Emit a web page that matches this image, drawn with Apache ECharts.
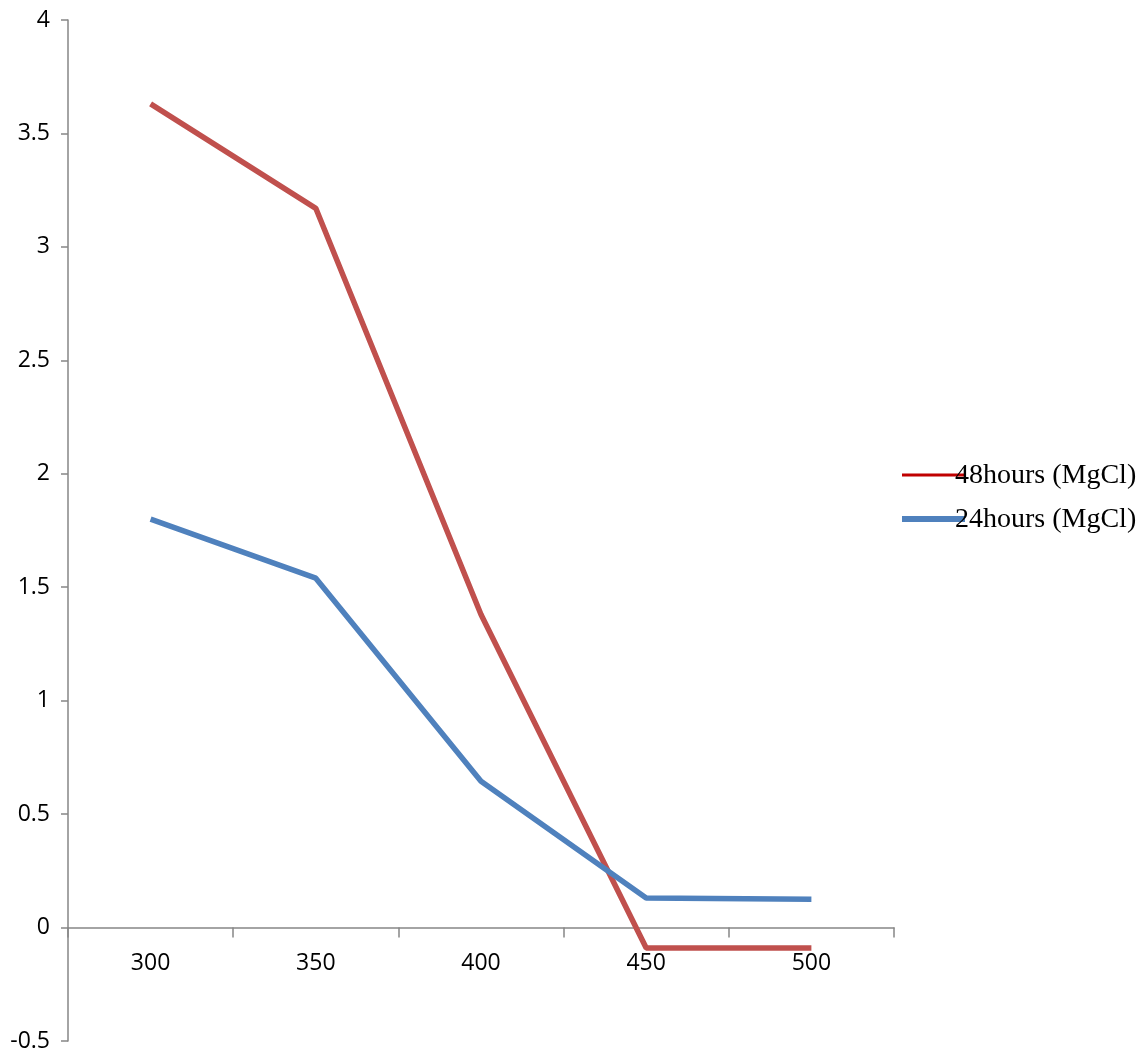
<!DOCTYPE html>
<html><head><meta charset="utf-8">
<script src="https://cdn.jsdelivr.net/npm/echarts@6/dist/echarts.min.js"></script>
<style>html,body{margin:0;padding:0;background:#fff}#c{width:1144px;height:1053px}</style>
</head><body><div id="c"></div>
<script>
var categories = ['300', '350', '400', '450', '500'];
var series48 = [3.63, 3.17, 1.38, -0.09, -0.09];
var series24 = [1.80, 1.54, 0.645, 0.13, 0.125];
var seriesNames = ['48hours (MgCl)', '24hours (MgCl)'];

var chart = echarts.init(document.getElementById('c'));
var axisColor = '#868686';
var labelFont = {color: '#000', fontSize: 23, fontFamily: 'Open Sans'};
var legendFont = '28px "Liberation Serif"';
var xLabelMargin = 24;
chart.setOption({
  animation: false,
  backgroundColor: '#fff',
  grid: {left: 68, right: 250, top: 20, bottom: 12, containLabel: false, outerBoundsMode: 'none'},
  xAxis: {
    type: 'category', data: categories, boundaryGap: true,
    axisLine: {onZero: true, lineStyle: {color: axisColor, width: 1.5}},
    axisTick: {show: true, inside: false, length: 10, lineStyle: {color: axisColor, width: 1.5}},
    axisLabel: Object.assign({margin: xLabelMargin}, labelFont),
    splitLine: {show: false}
  },
  yAxis: {
    type: 'value', min: -0.5, max: 4, interval: 0.5,
    axisLine: {show: true, lineStyle: {color: axisColor, width: 1.5}},
    axisTick: {show: true, length: 7, lineStyle: {color: axisColor, width: 1.5}},
    axisLabel: Object.assign({margin: 18}, labelFont),
    splitLine: {show: false}
  },
  legend: {show: false},
  graphic: [
    {type: 'line', shape: {x1: 902, y1: 475, x2: 965, y2: 475}, style: {stroke: '#C00000', lineWidth: 3}},
    {type: 'text', x: 955, y: 476, style: {text: seriesNames[0], font: legendFont, fill: '#000', verticalAlign: 'middle'}},
    {type: 'line', shape: {x1: 902, y1: 519, x2: 965, y2: 519}, style: {stroke: '#4F81BD', lineWidth: 6}},
    {type: 'text', x: 955, y: 520, style: {text: seriesNames[1], font: legendFont, fill: '#000', verticalAlign: 'middle'}}
  ],
  series: [
    {name: seriesNames[0], type: 'line', data: series48, symbol: 'none',
     lineStyle: {color: '#C0504D', width: 5.5}, itemStyle: {color: '#C0504D'}},
    {name: seriesNames[1], type: 'line', data: series24, symbol: 'none',
     lineStyle: {color: '#4F81BD', width: 5.5}, itemStyle: {color: '#4F81BD'}}
  ]
});
// x labels sit at the grid bottom; pull them up to follow the zero line.
(function () {
  var zeroY = chart.convertToPixel({yAxisIndex: 0}, 0);
  var bottomY = 1053 - 12;
  chart.setOption({xAxis: {axisLabel: {margin: xLabelMargin - (bottomY - zeroY)}}});
})();
</script></body></html>
